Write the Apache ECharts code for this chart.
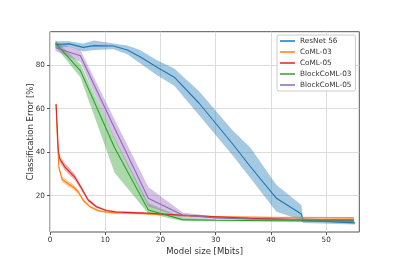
<!DOCTYPE html>
<html><head><meta charset="utf-8">
<script src="https://cdn.jsdelivr.net/npm/echarts@6/dist/echarts.min.js"></script>
<style>html,body{margin:0;padding:0;background:#fff}#c{width:399px;height:266px}</style>
</head><body><div id="c"></div>
<script>
const yTicks = [20, 40, 60, 80];
const xTicks = [0, 10, 20, 30, 40, 50];
const names = ['ResNet 56', 'CoML-03', 'CoML-05', 'BlockCoML-03', 'BlockCoML-05'];
const colors = ['#1f77b4', '#ff7f0e', '#d62728', '#2ca02c', '#9467bd'];

const resnetX    = [1, 3.5, 6, 8, 11.5, 14, 16.3, 19.3, 22.5, 27, 33, 36.3, 41, 45.5, 45.8, 55.2];
const resnetMean = [89.5, 89.8, 88.2, 89, 88.8, 87, 83.9, 79.2, 74.5, 62.5, 44, 33.3, 18.8, 11.6, 8.6, 7.5];
const resnetLow  = [88, 88.5, 86.3, 87, 87.3, 85, 80.9, 75.5, 70.5, 57, 38.7, 28, 12.6, 8.8, 7.4, 6.7];
const resnetHigh = [91, 91, 90, 91.3, 90, 89, 87, 82.4, 78.5, 68, 50.2, 42, 24.9, 15.7, 9.7, 8.3];

const coml03X    = [1.1, 1.3, 1.6, 2.2, 3.3, 4.2, 5.1, 6, 7.2, 8.7, 10.4, 12, 15, 18, 24, 30, 40, 55];
const coml03Mean = [62, 48, 33, 27.5, 25.5, 24, 21.8, 18, 15, 13.1, 12.4, 12.1, 11.9, 11.6, 10.8, 10.3, 10, 9.8];
const coml03Low  = [61.5, 47, 31.8, 26.2, 24.2, 22.8, 20.8, 17.2, 14.4, 12.6, 12, 11.7, 11.5, 11.2, 10.4, 9.9, 9.6, 9.4];
const coml03High = [62.5, 49, 34.2, 28.8, 26.8, 25.2, 22.8, 18.8, 15.6, 13.6, 12.8, 12.5, 12.3, 12, 11.2, 10.7, 10.4, 10.2];

const coml05X    = [1.1, 1.3, 1.5, 1.75, 2.65, 3.55, 4.5, 5.7, 6.9, 8.4, 10.2, 12, 15, 18, 24, 30, 36, 45, 55];
const coml05Mean = [62, 52, 41, 37, 33.4, 31, 28.5, 23.4, 18, 14.9, 13.2, 12.5, 12.2, 11.9, 11, 10.3, 9.6, 9, 8.8];
const coml05Low  = [61.5, 51, 39.8, 35.5, 31.8, 29.4, 27.2, 22.4, 17.2, 14.3, 12.8, 12.1, 11.8, 11.5, 10.6, 9.9, 9.2, 8.6, 8.4];
const coml05High = [62.5, 53, 42.2, 38.5, 35, 32.6, 29.8, 24.4, 18.8, 15.5, 13.6, 12.9, 12.6, 12.3, 11.4, 10.7, 10, 9.4, 9.2];

const blockX      = [1, 5.5, 11.7, 17.8, 24, 30, 36, 42, 48, 55];
const block03Mean = [90, 77.5, 42, 13.4, 9, 8.7, 8.6, 8.5, 8.4, 8.3];
const block03Low  = [88.5, 74.5, 30.5, 11.8, 8.4, 8.2, 8.1, 8, 7.9, 7.8];
const block03High = [91.5, 80.5, 46.5, 16.5, 9.8, 9.2, 9.1, 9, 8.9, 8.8];
const block05Mean = [88, 84.3, 51, 18.8, 11.1, 9.8, 9.3, 9.1, 9, 8.9];
const block05Low  = [86.5, 81.5, 46, 15, 9.8, 9.3, 8.9, 8.7, 8.6, 8.5];
const block05High = [90.5, 87, 55, 24, 12.3, 10.4, 9.8, 9.5, 9.4, 9.3];

const models = [
  [resnetX, resnetMean, resnetLow, resnetHigh],
  [coml03X, coml03Mean, coml03Low, coml03High],
  [coml05X, coml05Mean, coml05Low, coml05High],
  [blockX, block03Mean, block03Low, block03High],
  [blockX, block05Mean, block05Low, block05High]
];

function hexA(h, a) {
  const r = parseInt(h.slice(1,3),16), g = parseInt(h.slice(3,5),16), b = parseInt(h.slice(5,7),16);
  return 'rgba(' + r + ',' + g + ',' + b + ',' + a + ')';
}

const series = [];
models.forEach(function (m, k) {
  const xs = m[0], mean = m[1], lo = m[2], hi = m[3];
  series.push({
    type: 'custom',
    name: names[k] + ' band',
    silent: true,
    data: [[xs[0], mean[0]]],
    renderItem: function (params, api) {
      const pts = [];
      for (let i = 0; i < xs.length; i++) pts.push(api.coord([xs[i], hi[i]]));
      for (let i = xs.length - 1; i >= 0; i--) pts.push(api.coord([xs[i], lo[i]]));
      return { type: 'polygon', shape: { points: pts }, style: { fill: hexA(colors[k], 0.4), stroke: null } };
    }
  });
  series.push({
    type: 'line',
    name: names[k],
    data: xs.map(function (x, i) { return [x, mean[i]]; }),
    symbol: 'none',
    lineStyle: { color: colors[k], width: 1.1 },
    itemStyle: { color: colors[k] },
    silent: true
  });
});

const font = 'DejaVu Sans';
const chart = echarts.init(document.getElementById('c'));
chart.setOption({
  animation: false,
  backgroundColor: '#fff',
  grid: { left: 50, right: 39.7, top: 31.7, bottom: 34, show: true, borderColor: '#555', borderWidth: 1, backgroundColor: 'transparent' },
  xAxis: {
    type: 'value', min: 0, max: 56, interval: 10,
    name: 'Model size [Mbits]', nameLocation: 'middle', nameGap: 15.5, nameMoveOverlap: false,
    nameTextStyle: { fontFamily: font, fontSize: 8.5, color: '#333' },
    axisLine: { show: false },
    axisTick: { show: true, length: 3, lineStyle: { color: '#555' }, customValues: xTicks },
    axisLabel: { fontFamily: font, fontSize: 7.3, color: '#333', margin: 5, customValues: xTicks },
    splitLine: { show: true, lineStyle: { color: '#dcdcdc', width: 1 } }
  },
  yAxis: {
    type: 'value', min: 3.3, max: 95.4,
    name: 'Classification Error [%]', nameLocation: 'middle', nameGap: 15, nameMoveOverlap: false,
    nameTextStyle: { fontFamily: font, fontSize: 8.5, color: '#333' },
    axisLine: { show: false },
    axisTick: { show: true, length: 3, lineStyle: { color: '#555' }, customValues: yTicks },
    axisLabel: { fontFamily: font, fontSize: 7.3, color: '#333', margin: 5, customValues: yTicks },
    splitLine: { show: true, lineStyle: { color: '#dcdcdc', width: 1 } }
  },
  legend: {
    data: names,
    orient: 'vertical', left: 277, top: 35,
    icon: 'rect', itemWidth: 15, itemHeight: 1.5, itemGap: 2,
    padding: [1.5, 4, 1.5, 3],
    borderColor: '#ccc', borderWidth: 1, borderRadius: 2,
    backgroundColor: 'rgba(255,255,255,0.8)',
    textStyle: { fontFamily: font, fontSize: 7.3, color: '#333', lineHeight: 9 },
    selectedMode: false
  },
  series: series
});
</script></body></html>
